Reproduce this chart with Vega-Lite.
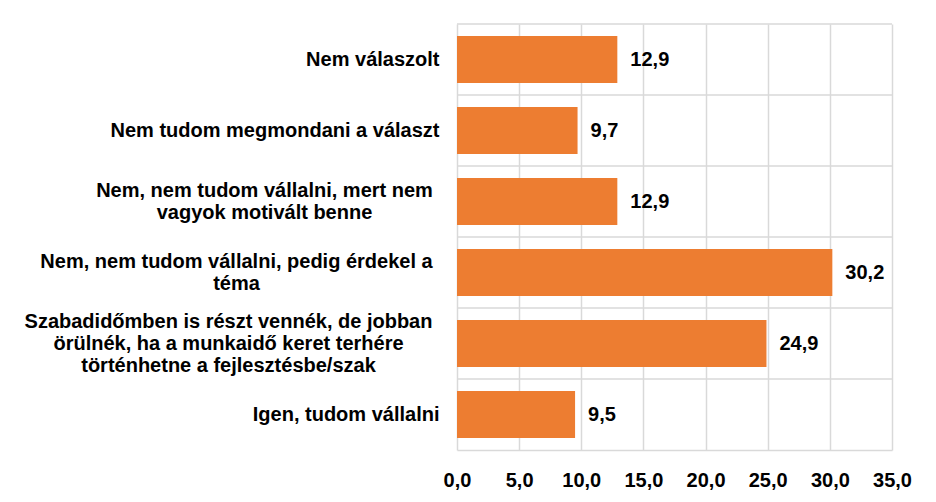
{
  "$schema": "https://vega.github.io/schema/vega-lite/v6.json",
  "autosize": {"type": "none"},
  "padding": {"left": 457, "top": 24, "right": 44, "bottom": 52},
  "width": 435,
  "height": 426,
  "background": "white",
  "config": {
    "locale": {"number": {"decimal": ",", "thousands": " ", "grouping": [3], "currency": ["", ""]}},
    "view": {"stroke": null},
    "font": "Liberation Sans"
  },
  "data": {
    "values": [
      {"kategoria": "Nem válaszolt", "ertek": 12.9},
      {"kategoria": "Nem tudom megmondani a választ", "ertek": 9.7},
      {"kategoria": "Nem, nem tudom vállalni, mert nem|vagyok motivált benne", "ertek": 12.9},
      {"kategoria": "Nem, nem tudom vállalni, pedig érdekel a|téma", "ertek": 30.2},
      {"kategoria": "Szabadidőmben is részt vennék, de jobban|örülnék, ha a munkaidő keret terhére|történhetne a fejlesztésbe/szak", "ertek": 24.9},
      {"kategoria": "Igen, tudom vállalni", "ertek": 9.5}
    ]
  },
  "encoding": {
    "y": {
      "field": "kategoria",
      "type": "nominal",
      "sort": null,
      "title": null,
      "scale": {"paddingInner": 0, "paddingOuter": 0},
      "axis": {
        "domain": false,
        "ticks": false,
        "grid": false,
        "labelExpr": "split(datum.label, '|')",
        "labelFont": "Liberation Sans",
        "labelFontSize": 20,
        "labelFontWeight": "bold",
        "labelColor": "#000000",
        "labelLineHeight": 22,
        "labelBaseline": "middle",
        "labelLimit": 0,
        "labelAlign": {"condition": {"test": "indexof(datum.value, '|') >= 0", "value": "center"}, "value": "right"},
        "labelOffset": {"condition": [
          {"test": "indexof(datum.value, 'Szabadidőmben') >= 0", "value": -22},
          {"test": "indexof(datum.value, '|') >= 0", "value": -11}
        ], "value": 0},
        "labelPadding": {"condition": [
          {"test": "indexof(datum.value, 'motivált') >= 0", "value": 193},
          {"test": "indexof(datum.value, 'érdekel') >= 0", "value": 221},
          {"test": "indexof(datum.value, 'Szabadidőmben') >= 0", "value": 229}
        ], "value": 18}
      }
    }
  },
  "layer": [
    {
      "mark": {"type": "rule", "color": "#d9d9d9", "strokeWidth": 1.5},
      "encoding": {"y": {"field": "kategoria", "type": "nominal", "sort": null, "bandPosition": 0}}
    },
    {
      "mark": {"type": "bar", "color": "#ED7D31", "height": {"band": 0.66}},
      "encoding": {
        "x": {
          "field": "ertek",
          "type": "quantitative",
          "title": null,
          "scale": {"domain": [0, 35], "nice": false},
          "axis": {
            "values": [0, 5, 10, 15, 20, 25, 30, 35],
            "format": ".1f",
            "domain": true,
            "domainColor": "#d9d9d9",
            "domainWidth": 1.5,
            "ticks": false,
            "grid": true,
            "gridColor": "#d9d9d9",
            "gridWidth": 1.5,
            "labelFont": "Liberation Sans",
            "labelFontSize": 20,
            "labelFontWeight": "bold",
            "labelColor": "#000000",
            "labelPadding": 20,
            "labelFlush": false
          }
        }
      }
    },
    {
      "mark": {"type": "text", "align": "left", "baseline": "middle", "dx": 13, "font": "Liberation Sans", "fontSize": 20, "fontWeight": "bold", "color": "#000000"},
      "encoding": {
        "x": {"field": "ertek", "type": "quantitative"},
        "text": {"field": "ertek", "type": "quantitative", "format": ".1f"}
      }
    }
  ]
}
